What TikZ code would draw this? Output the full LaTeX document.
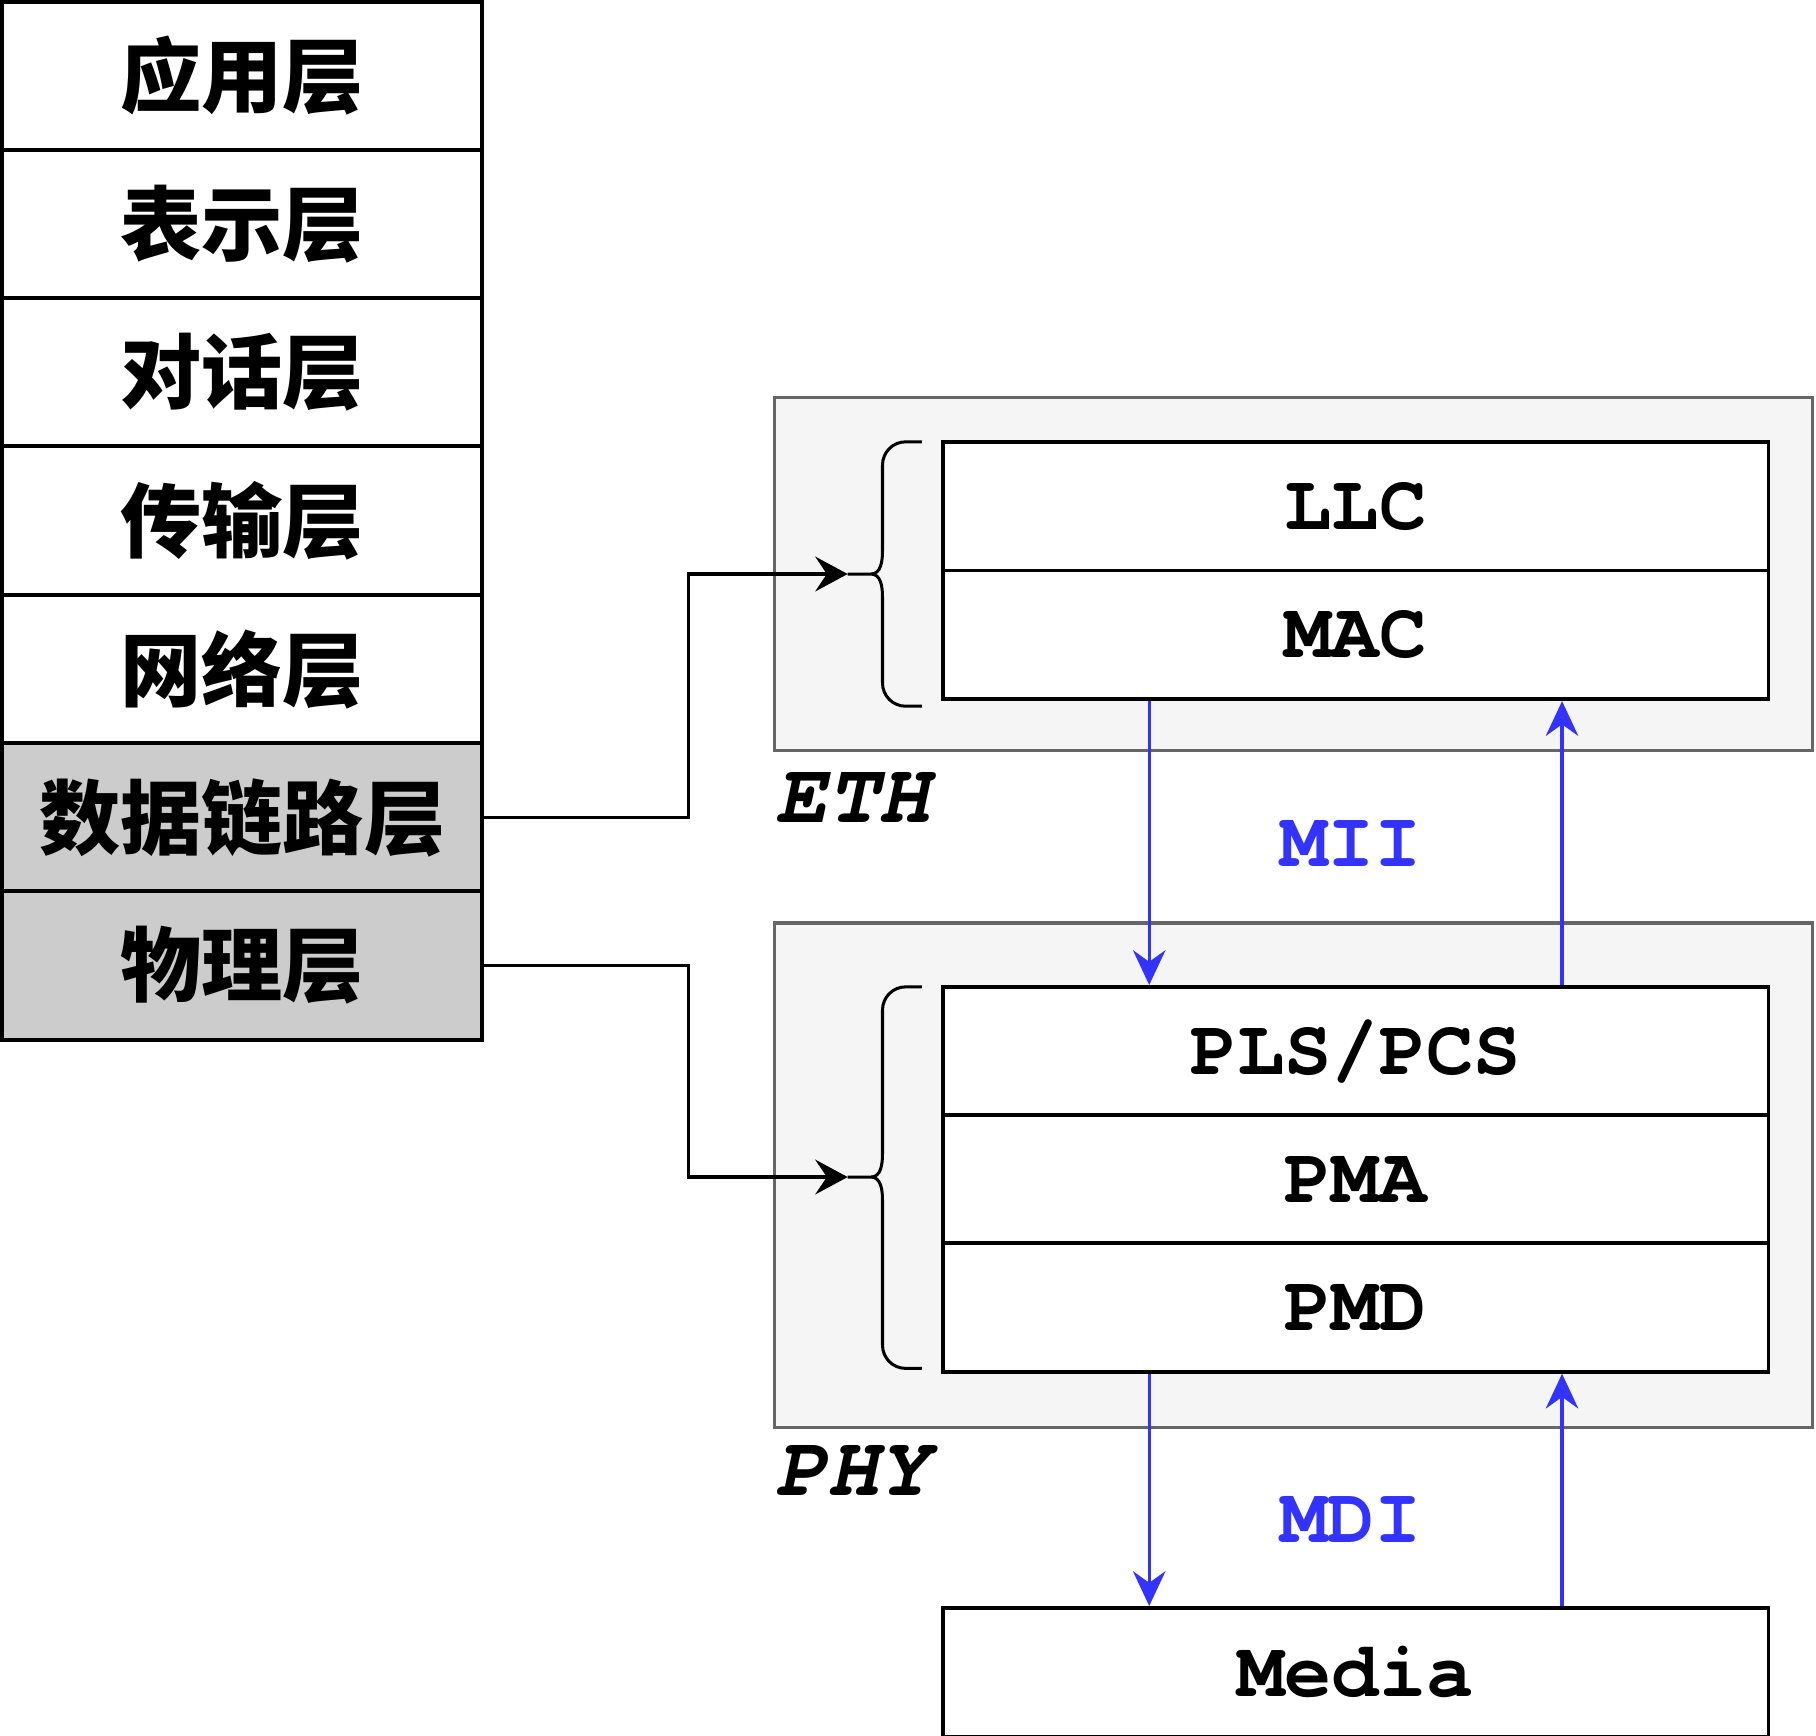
\documentclass[tikz,border=0pt]{standalone}
\usepackage{fontspec}
\setmonofont{texgyrecursor}[Extension=.otf, UprightFont=*-regular, BoldFont=*-bold, ItalicFont=*-italic, BoldItalicFont=*-bolditalic]
\newfontfamily\cjk{Noto Sans CJK SC}[BoldFont={Noto Sans CJK SC Black}]
\usepackage{tikz}
\usetikzlibrary{%
  positioning,%
  calc,%
  arrows.meta%
}
\definecolor{osigray}{HTML}{CCCCCC}
\definecolor{groupfill}{HTML}{F5F5F5}
\definecolor{groupline}{HTML}{666666}
\definecolor{ifblue}{HTML}{3333FF}
\newcommand{\cn}[1]{{\cjk\bfseries\fontsize{35pt}{40pt}\selectfont #1}}
\newcommand{\mono}[1]{{\ttfamily\bfseries\fontsize{34pt}{38pt}\selectfont #1}}

\begin{document}
\begin{tikzpicture}[x=0.5pt, y=-0.5pt,
  osi/.style={draw, line width=1.7pt, fill=white, minimum width=207pt, minimum height=64pt, inner sep=0pt},
  sub/.style={draw, line width=1.6pt, fill=white, minimum width=356pt, minimum height=55.5pt, inner sep=0pt},
  group/.style={draw=groupline, line width=1.4pt, fill=groupfill, minimum width=447.5pt, inner sep=0pt},
  brace/.style={line width=1.3pt},
  conn/.style={line width=1.4pt, -{Stealth[length=14pt, width=15pt, inset=5pt]}},
  ifarrow/.style={draw=ifblue, line width=1.4pt, -{Stealth[length=15pt, width=14pt, inset=5pt]}, color=ifblue},
  iflabel/.style={text=ifblue}
]
\useasboundingbox (0,0) rectangle (1566,1497);

\node[osi] (app) at (209,65.5) {\cn{应用层}};
\node[osi] (pre) at (209,193) {\cn{表示层}};
\node[osi] (ses) at (209,321) {\cn{对话层}};
\node[osi] (tra) at (209,449) {\cn{传输层}};
\node[osi] (net) at (209,577) {\cn{网络层}};
\node[osi, fill=osigray] (dl) at (209,705) {\cn{数据链路层}};
\node[osi, fill=osigray] (phy) at (209,832.5) {\cn{物理层}};

\node[group, minimum height=152pt] (ETH) at (1115.5,495) {};
\node[group, minimum height=217.5pt] (PHY) at (1115.5,1013.5) {};
\node[anchor=west] (ETHl) at (662,688) {\mono{\fontsize{37pt}{40pt}\selectfont\itshape ETH}};
\node[anchor=west] (PHYl) at (662,1268) {\mono{\fontsize{37pt}{40pt}\selectfont\itshape PHY}};

\node[sub] (LLC) at (1169,436.5) {\mono{LLC}};
\node[sub] (MAC) at (1169,547.5) {\mono{MAC}};
\node[sub] (PLS) at (1169,906.5) {\mono{PLS/PCS}};
\node[sub] (PMA) at (1169,1017) {\mono{PMA}};
\node[sub] (PMD) at (1169,1127.5) {\mono{PMD}};
\node[sub] (Media) at (1169,1442) {\mono{Media}};

\node[iflabel] (MII) at (1165,727) {\mono{MII}};
\node[iflabel] (MDI) at (1165,1310) {\mono{MDI}};

% braces
\coordinate (ethtip) at (731,495);
\coordinate (phytip) at (731,1015);
\draw[brace] (795,381) -- (781,381) to[out=180,in=90] (761,401) -- (761,475)
  to[out=-90,in=0] (751,495) -- (ethtip)
  (751,495) to[out=0,in=90] (761,515) -- (761,589) to[out=-90,in=180] (781,609) -- (795,609);
\draw[brace] (795,851) -- (781,851) to[out=180,in=90] (761,871) -- (761,995)
  to[out=-90,in=0] (751,1015) -- (phytip)
  (751,1015) to[out=0,in=90] (761,1035) -- (761,1160) to[out=-90,in=180] (781,1180) -- (795,1180);

\draw[conn] (dl.east) -- ++(88pt,0) |- (ethtip);
\draw[conn] (phy.east) -- ++(88pt,0) |- (phytip);

\draw[ifarrow] (MAC.south -| 991,0) -- (PLS.north -| 991,0);
\draw[ifarrow] (PLS.north -| 1347,0) -- (MAC.south -| 1347,0);
\draw[ifarrow] (PMD.south -| 991,0) -- (Media.north -| 991,0);
\draw[ifarrow] (Media.north -| 1347,0) -- (PMD.south -| 1347,0);
\end{tikzpicture}
\end{document}
